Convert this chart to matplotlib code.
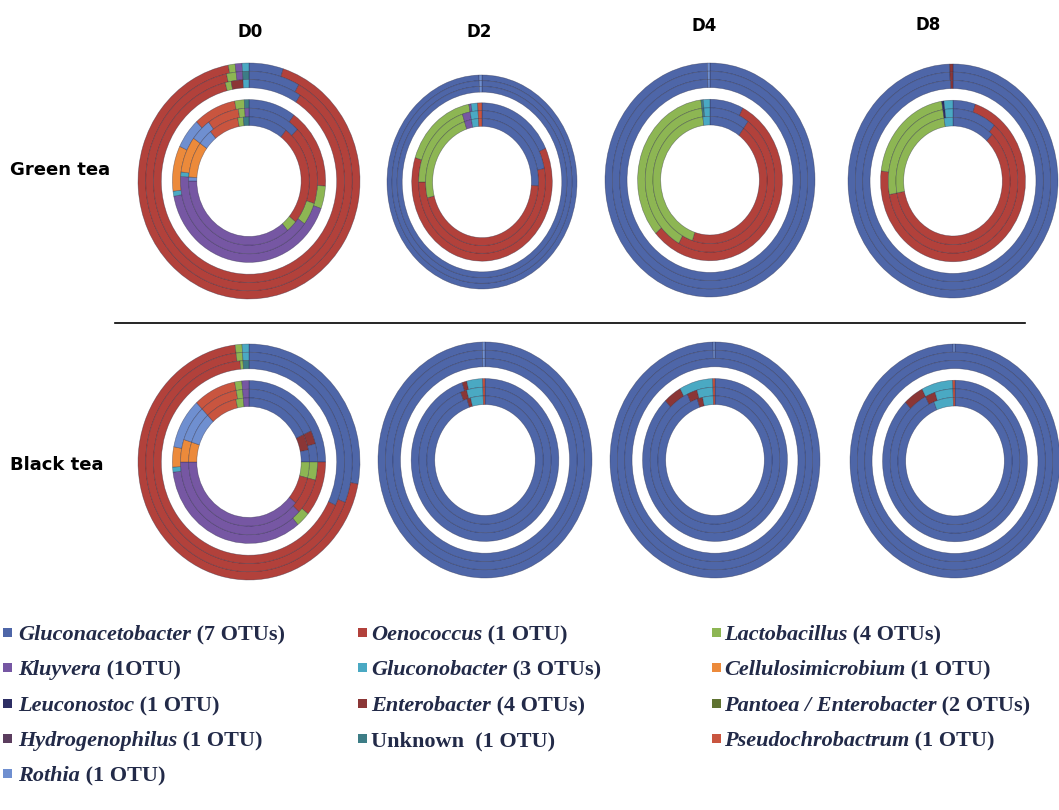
import matplotlib.pyplot as plt
from matplotlib.lines import Line2D
from matplotlib.patches import Rectangle

# ---- data -------------------------------------------------------------
days = ['D0', 'D2', 'D4', 'D8']
teas = ['Green tea', 'Black tea']

colors = {
    'Gac': '#4e66a8',  # Gluconacetobacter
    'Oen': '#b2413b',  # Oenococcus
    'Lac': '#8db653',  # Lactobacillus
    'Klu': '#7657a3',  # Kluyvera
    'Glb': '#4aa9c3',  # Gluconobacter
    'Cel': '#ec8a3b',  # Cellulosimicrobium
    'Leu': '#2d2e64',  # Leuconostoc
    'Ent': '#8b3636',  # Enterobacter
    'Pan': '#5f7331',  # Pantoea / Enterobacter
    'Hyd': '#5b3d5e',  # Hydrogenophilus
    'Unk': '#3d7d86',  # Unknown
    'Pse': '#c9553f',  # Pseudochrobactrum
    'Rot': '#6f8fd0',  # Rothia
}

# each panel: 3 rings of the outer band, then 3 rings of the inner band
# every ring is read clockwise from 12 o'clock, values in %
green_d0 = [
    [('Gac', 5), ('Oen', 92), ('Lac', 1), ('Klu', 1), ('Glb', 1)],
    [('Gac', 8), ('Oen', 88.5), ('Lac', 1.5), ('Klu', 1), ('Unk', 1)],
    [('Gac', 9), ('Oen', 87), ('Lac', 1), ('Ent', 2), ('Glb', 1)],
    [('Gac', 10), ('Oen', 16), ('Lac', 4.5), ('Klu', 41.5), ('Glb', 1), ('Cel', 9),
     ('Rot', 6), ('Pse', 9), ('Lac', 2), ('Unk', 1)],
    [('Gac', 12.5), ('Oen', 17.5), ('Lac', 5), ('Klu', 41), ('Glb', 1), ('Cel', 8),
     ('Rot', 5), ('Pse', 7.5), ('Lac', 1.5), ('Klu', 1)],
    [('Gac', 10.5), ('Oen', 25.5), ('Lac', 3), ('Klu', 36), ('Rot', 1), ('Cel', 9),
     ('Rot', 4), ('Pse', 8), ('Lac', 1.5), ('Unk', 1.5)],
]
green_d2 = [
    [('Gac', 99.5), ('Rot', 0.5)],
    [('Gac', 99.5), ('Rot', 0.5)],
    [('Gac', 99.5), ('Rot', 0.5)],
    [('Gac', 18), ('Oen', 62), ('Lac', 17), ('Klu', 0.5), ('Glb', 1.5), ('Pse', 1)],
    [('Gac', 22), ('Oen', 53), ('Lac', 20), ('Klu', 2), ('Glb', 2), ('Pse', 1)],
    [('Gac', 26), ('Oen', 45), ('Lac', 24), ('Klu', 2), ('Glb', 2), ('Pse', 1)],
]
green_d4 = [
    [('Gac', 99.6), ('Rot', 0.4)],
    [('Gac', 99.6), ('Rot', 0.4)],
    [('Gac', 99.6), ('Rot', 0.4)],
    [('Gac', 7.5), ('Oen', 56), ('Lac', 34.5), ('Unk', 0.5), ('Glb', 1.5)],
    [('Gac', 10), ('Oen', 48), ('Lac', 40), ('Unk', 0.5), ('Glb', 1.5)],
    [('Gac', 10), ('Oen', 45), ('Lac', 43), ('Glb', 2)],
]
green_d8 = [
    [('Gac', 99.5), ('Ent', 0.5)],
    [('Gac', 99.5), ('Ent', 0.5)],
    [('Gac', 99.6), ('Ent', 0.4)],
    [('Gac', 5), ('Oen', 72), ('Lac', 20.5), ('Leu', 0.5), ('Glb', 2)],
    [('Gac', 11), ('Oen', 61), ('Lac', 25.5), ('Leu', 0.5), ('Glb', 2)],
    [('Gac', 12), ('Oen', 60), ('Lac', 25.5), ('Glb', 2.5)],
]
black_d0 = [
    [('Gac', 28), ('Oen', 70), ('Lac', 1), ('Glb', 1)],
    [('Gac', 31), ('Oen', 67), ('Lac', 1), ('Glb', 1)],
    [('Gac', 32), ('Oen', 66.5), ('Lac', 0.5), ('Unk', 1)],
    [('Gac', 25), ('Oen', 11), ('Lac', 3), ('Klu', 34), ('Glb', 1), ('Cel', 4),
     ('Rot', 10), ('Pse', 9), ('Lac', 1.5), ('Klu', 1.5)],
    [('Gac', 18), ('Ent', 3), ('Gac', 4), ('Lac', 4), ('Oen', 8), ('Klu', 38),
     ('Cel', 5), ('Rot', 8), ('Pse', 9), ('Lac', 1.5), ('Klu', 1.5)],
    [('Gac', 18), ('Ent', 4), ('Gac', 3), ('Lac', 4), ('Oen', 7), ('Klu', 39),
     ('Cel', 5), ('Rot', 8), ('Pse', 8.5), ('Lac', 2), ('Klu', 1.5)],
]
black_d2 = [
    [('Gac', 99.6), ('Rot', 0.4)],
    [('Gac', 99.6), ('Rot', 0.4)],
    [('Gac', 99.6), ('Rot', 0.4)],
    [('Gac', 95), ('Ent', 1), ('Glb', 3.5), ('Pse', 0.5)],
    [('Gac', 94), ('Ent', 1.5), ('Glb', 4), ('Pse', 0.5)],
    [('Gac', 95), ('Ent', 1), ('Glb', 3.5), ('Pse', 0.5)],
]
black_d4 = [
    [('Gac', 99.7), ('Rot', 0.3)],
    [('Gac', 99.7), ('Rot', 0.3)],
    [('Gac', 100)],
    [('Gac', 88), ('Ent', 4), ('Glb', 7.5), ('Pse', 0.5)],
    [('Gac', 93), ('Ent', 2.5), ('Glb', 4), ('Pse', 0.5)],
    [('Gac', 95), ('Ent', 1.5), ('Glb', 3), ('Pse', 0.5)],
]
black_d8 = [
    [('Gac', 99.7), ('Rot', 0.3)],
    [('Gac', 100)],
    [('Gac', 100)],
    [('Gac', 88), ('Ent', 4.5), ('Glb', 7), ('Pse', 0.5)],
    [('Gac', 92.5), ('Ent', 2.5), ('Glb', 4.5), ('Pse', 0.5)],
    [('Gac', 94), ('Glb', 5.5), ('Pse', 0.5)],
]

legend_cols = [
    [('Gluconacetobacter', ' (7 OTUs)', 'Gac'), ('Kluyvera', ' (1OTU)', 'Klu'),
     ('Leuconostoc', ' (1 OTU)', 'Leu'), ('Hydrogenophilus', ' (1 OTU)', 'Hyd'),
     ('Rothia', ' (1 OTU)', 'Rot')],
    [('Oenococcus', ' (1 OTU)', 'Oen'), ('Gluconobacter', ' (3 OTUs)', 'Glb'),
     ('Enterobacter', ' (4 OTUs)', 'Ent'), ('', 'Unknown  (1 OTU)', 'Unk')],
    [('Lactobacillus', ' (4 OTUs)', 'Lac'), ('Cellulosimicrobium', ' (1 OTU)', 'Cel'),
     ('Pantoea / Enterobacter', ' (2 OTUs)', 'Pan'),
     ('Pseudochrobactrum', ' (1 OTU)', 'Pse')],
]

# ---- layout (pixels) --------------------------------------------------
W, H = 1059, 810
fig = plt.figure(figsize=(W / 100, H / 100), dpi=100)

panels = [
    # data, cx, cy, rx, ry, outer band (r0, r1), inner band (r0, r1)
    (green_d0, 249, 181, 111, 118, (1.0, 0.79), (0.69, 0.47)),
    (green_d2, 482, 182, 95, 107, (1.0, 0.84), (0.74, 0.52)),
    (green_d4, 710, 180, 105, 117, (1.0, 0.79), (0.69, 0.47)),
    (green_d8, 953, 181, 105, 117, (1.0, 0.79), (0.69, 0.47)),
    (black_d0, 249, 462, 111, 118, (1.0, 0.79), (0.69, 0.47)),
    (black_d2, 485, 460, 107, 118, (1.0, 0.79), (0.69, 0.47)),
    (black_d4, 715, 460, 105, 118, (1.0, 0.79), (0.69, 0.47)),
    (black_d8, 955, 461, 105, 117, (1.0, 0.79), (0.69, 0.47)),
]


def draw_donut(rings, cx, cy, rx, ry, band_out, band_in):
    ax = fig.add_axes([(cx - rx) / W, 1 - (cy + ry) / H, 2 * rx / W, 2 * ry / H])
    for bi, (r0, r1) in enumerate([band_out, band_in]):
        w = (r0 - r1) / 3
        for k in range(3):
            ring = rings[bi * 3 + k]
            ax.pie([v for _, v in ring], colors=[colors[t] for t, _ in ring],
                   radius=r0 - k * w, startangle=90, counterclock=False,
                   wedgeprops=dict(width=w, edgecolor=(0.12, 0.12, 0.22, 0.45),
                                   linewidth=0.45))
    ax.set_aspect('auto')
    ax.set_xlim(-1, 1)
    ax.set_ylim(-1, 1)
    ax.axis('off')


for p in panels:
    draw_donut(*p)

# column / row titles
for d, (x, y) in zip(days, [(250, 32), (479, 32), (704, 26), (928, 25)]):
    fig.text(x / W, 1 - y / H, d, ha='center', va='center', fontsize=12,
             weight='bold', family='DejaVu Sans')
for t, y in zip(teas, [170, 465]):
    fig.text(10 / W, 1 - y / H, t, ha='left', va='center', fontsize=13,
             weight='bold', family='DejaVu Sans')

fig.add_artist(Line2D([115 / W, 1025 / W], [1 - 323 / H] * 2, color='black', lw=1.2))

# legend
renderer = fig.canvas.get_renderer()
txt_color = '#222a48'
col_x = [(3, 18), (358, 371), (712, 724)]
row_y = [640, 675, 711, 746, 781]
for (mx, tx), entries in zip(col_x, legend_cols):
    for (genus, rest, key), y in zip(entries, row_y):
        fig.add_artist(Rectangle((mx / W, 1 - (y - 3) / H), 9 / W, 9 / H,
                                 transform=fig.transFigure, facecolor=colors[key],
                                 edgecolor='none'))
        x = tx
        if genus:
            t = fig.text(x / W, 1 - y / H, genus, ha='left', va='baseline',
                         fontsize=16, style='italic', weight='bold',
                         family='Liberation Serif', color=txt_color)
            x = t.get_window_extent(renderer=renderer).x1
        fig.text(x / W, 1 - y / H, rest, ha='left', va='baseline', fontsize=16,
                 weight='bold', family='Liberation Serif', color=txt_color)

fig.savefig('out.png', dpi=100)
